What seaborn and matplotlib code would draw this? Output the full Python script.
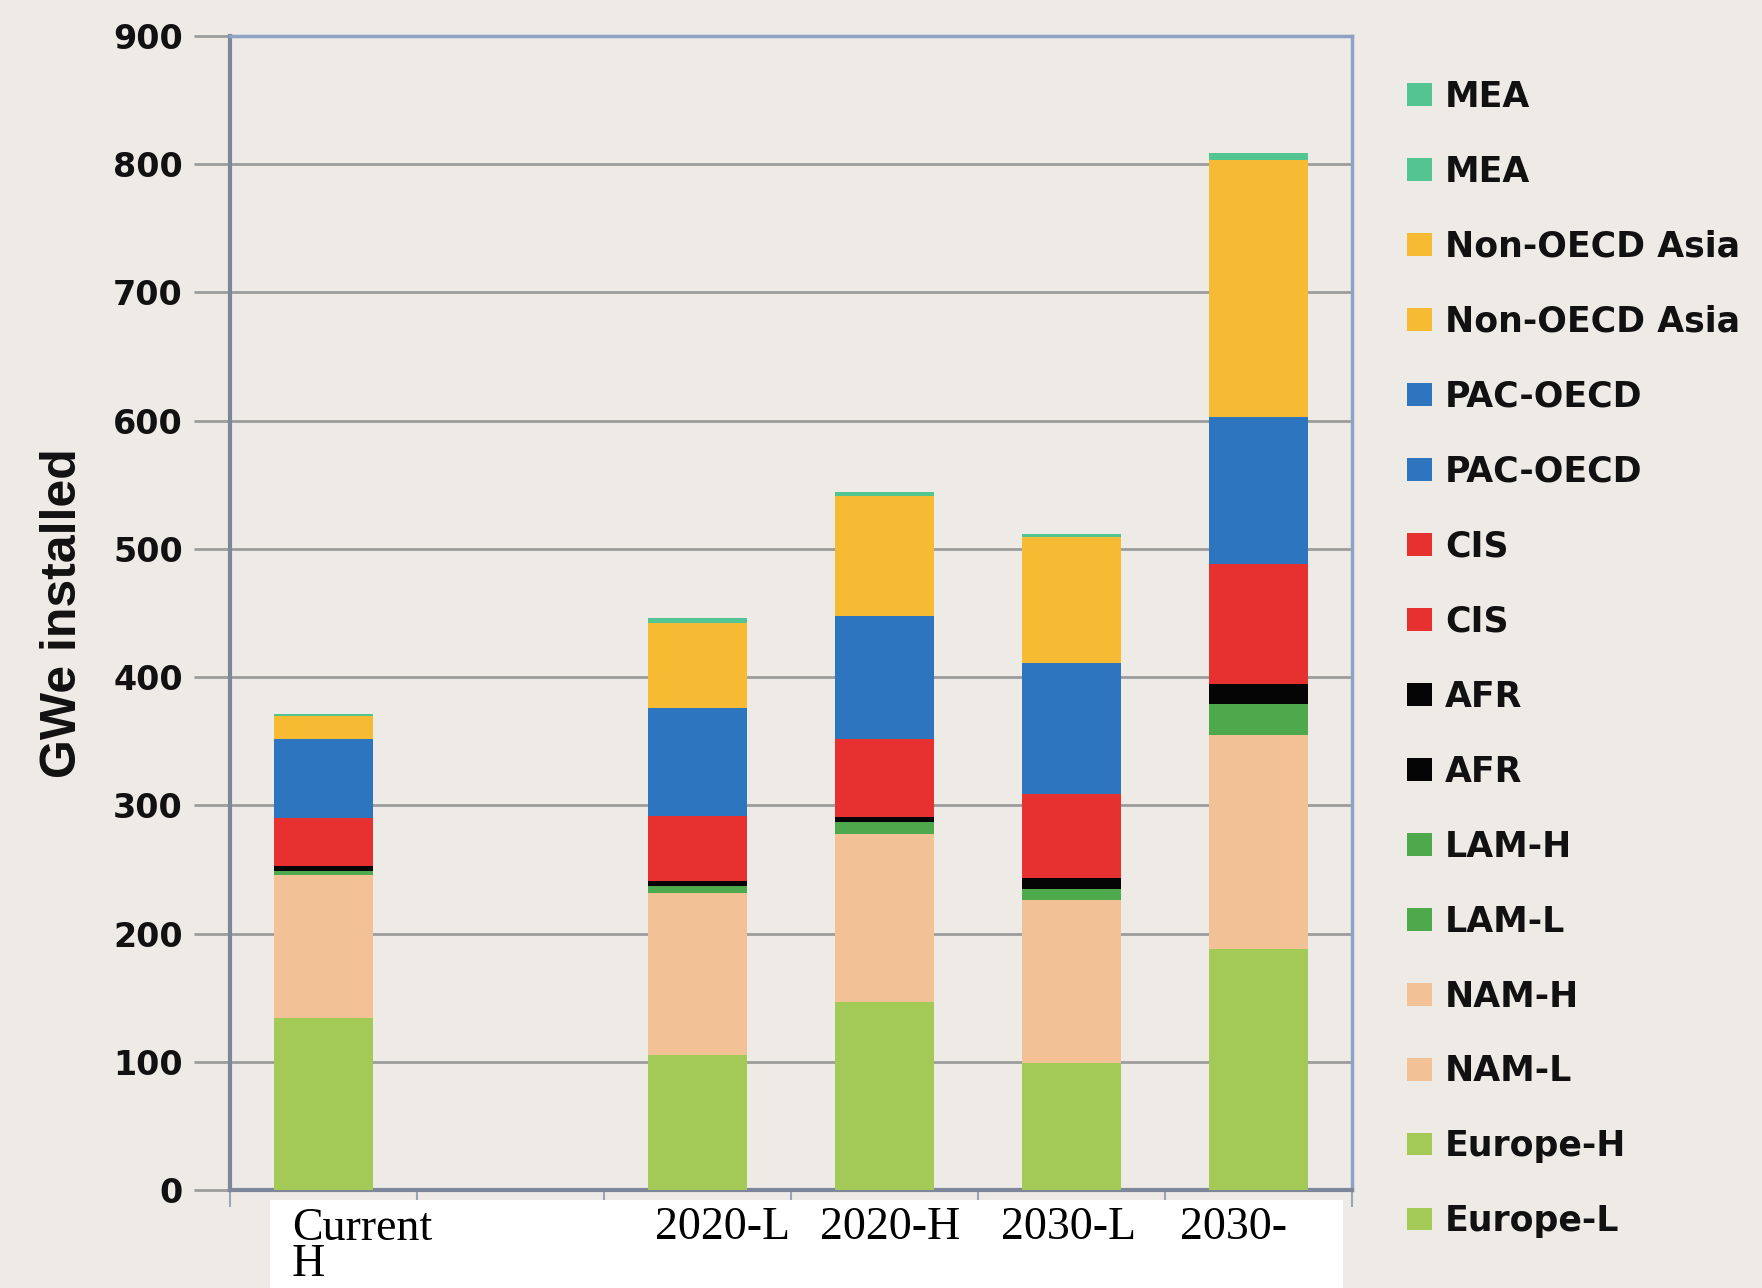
import matplotlib
matplotlib.use("Agg")
import matplotlib.pyplot as plt
from matplotlib.patches import Patch, Rectangle
import seaborn as sns
import pandas as pd
import numpy as np

# ---- data ----
categories = ["Current", " ", "2020-L", "2020-H", "2030-L", "2030-H"]
overlay_labels = ["Current\nH", "2020-L", "2020-H", "2030-L", "2030-"]

europe = [134, 0, 105, 147, 99, 188]
nam = [112, 0, 127, 131, 127, 167]
lam = [3, 0, 5, 9, 9, 24]
afr = [4, 0, 4, 4, 8, 16]
cis = [37, 0, 51, 61, 66, 93]
pac = [62, 0, 84, 96, 102, 115]
non_oecd_asia = [18, 0, 66, 93, 98, 200]
mea = [1, 0, 4, 3, 3, 6]

layer_names = ["Europe", "NAM", "LAM", "AFR", "CIS", "PAC-OECD", "Non-OECD Asia", "MEA"]
layer_values = [europe, nam, lam, afr, cis, pac, non_oecd_asia, mea]
layer_colors = ["#a3c957", "#f2c196", "#4ea84c", "#050505", "#e63130", "#2e75bf", "#f6bb33", "#52c592"]

legend_labels = ["MEA", "MEA", "Non-OECD Asia", "Non-OECD Asia", "PAC-OECD", "PAC-OECD",
                 "CIS", "CIS", "AFR", "AFR", "LAM-H", "LAM-L", "NAM-H", "NAM-L",
                 "Europe-H", "Europe-L"]
legend_colors = ["#52c592", "#52c592", "#f6bb33", "#f6bb33", "#2e75bf", "#2e75bf",
                 "#e63130", "#e63130", "#050505", "#050505", "#4ea84c", "#4ea84c",
                 "#f2c196", "#f2c196", "#a3c957", "#a3c957"]

yticks = [0, 100, 200, 300, 400, 500, 600, 700, 800, 900]

# ---- styling ----
bg = "#eeebe7"
sns.set_theme(style="white")
plt.rcParams["font.family"] = ["DejaVu Sans"]

W, H = 1762, 1288
fig = plt.figure(figsize=(W / 100, H / 100), dpi=100, facecolor=bg)
ax = fig.add_axes([230 / W, 1 - 1190 / H, (1352 - 230) / W, (1190 - 36) / H])
ax.set_facecolor(bg)

df_base = pd.DataFrame({"cat": categories})
bottom = np.zeros(len(categories))
for name, vals, col in zip(layer_names, layer_values, layer_colors):
    d = df_base.copy()
    d["val"] = vals
    sns.barplot(data=d, x="cat", y="val", order=categories, color=col,
                bottom=bottom, width=0.53, saturation=1, ax=ax,
                edgecolor="none", linewidth=0, errorbar=None, zorder=3)
    bottom = bottom + np.array(vals, dtype=float)

ax.set_xlim(-0.5, len(categories) - 0.5)
ax.set_ylim(0, 900)
ax.set_yticks(yticks)
ax.set_yticklabels([str(v) for v in yticks], fontsize=24, fontweight="bold", color="#111111")
ax.grid(axis="y", color="#9c9c9c", linewidth=2, zorder=0)
ax.set_axisbelow(True)
ax.tick_params(axis="y", which="major", length=26, width=2, color="#9c9c9c",
               pad=8, left=True, direction="out")

# x ticks at slot boundaries
ax.set_xticks(np.arange(-0.5, len(categories), 1.0))
ax.set_xticklabels([])
ax.tick_params(axis="x", which="major", length=12, width=1.5, color="#9aa4b8",
               bottom=True, direction="out")
ax.set_xlabel("")

ax.set_ylabel("GWe installed", family="Liberation Sans", fontweight="bold",
              fontsize=36, color="#111111")
ax.yaxis.set_label_coords(-0.128, 0.5)

for side in ["top", "right"]:
    ax.spines[side].set_color("#8ea2c6")
    ax.spines[side].set_linewidth(2.5)
ax.spines["left"].set_color("#7d8799")
ax.spines["left"].set_linewidth(3)
ax.spines["bottom"].set_color("#7d8799")
ax.spines["bottom"].set_linewidth(3)

# legend
handles = [Patch(facecolor=c, edgecolor="none") for c in legend_colors]
leg = fig.legend(handles, legend_labels, loc="upper left", bbox_to_anchor=(0.7985, 0.938),
                 frameon=False, prop={"family": "DejaVu Sans", "weight": "bold", "size": 25},
                 handlelength=0.72, handleheight=0.62, handletextpad=0.38,
                 labelspacing=1.18, borderpad=0, borderaxespad=0)
for t in leg.get_texts():
    t.set_color("#111111")

# white label box below axis with overlay labels
fig.patches.append(Rectangle((270 / W, 0), (1343 - 270) / W, 88 / H,
                             transform=fig.transFigure, facecolor="white",
                             edgecolor="none", zorder=5))
label_x = [292, 655, 820, 1001, 1180]
baseline_px = 1239
line_px = 37
for lab, xpx in zip(overlay_labels, label_x):
    n_lines = lab.count("\n") + 1
    fig.text(xpx / W, 1 - (baseline_px + (n_lines - 1) * line_px) / H, lab,
             family="Liberation Serif", fontsize=33, color="black",
             ha="left", va="baseline", linespacing=0.81, zorder=6)

fig.savefig("out.png", dpi=100, facecolor=bg)
